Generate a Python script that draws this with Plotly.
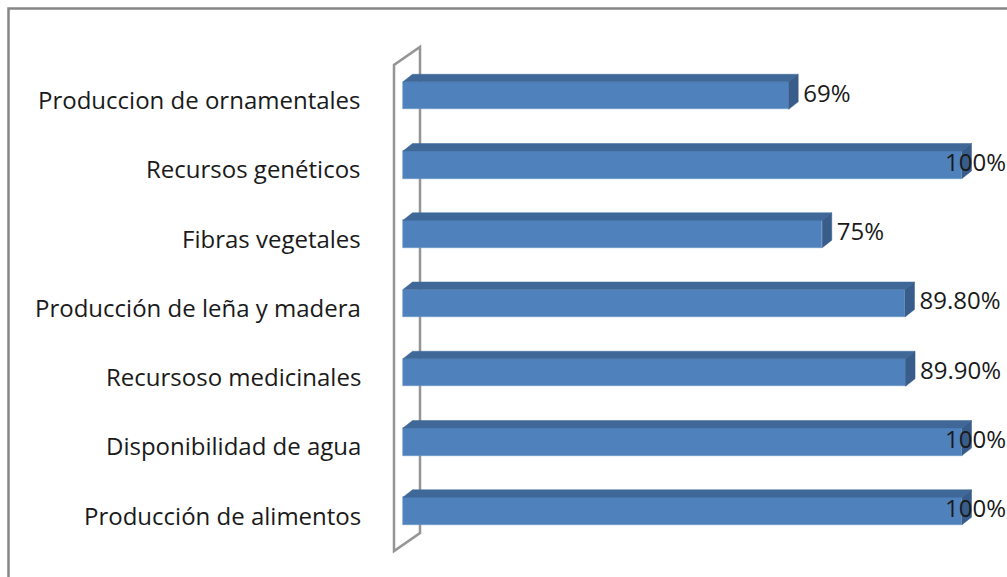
import plotly.graph_objects as go

# ---- data (bottom to top) ----
categories = [
    "Producción de alimentos",
    "Disponibilidad de agua",
    "Recursoso medicinales",
    "Producción de leña y madera",
    "Fibras vegetales",
    "Recursos genéticos",
    "Produccion de ornamentales",
]
values = [100, 100, 89.9, 89.8, 75, 100, 69]
value_labels = ["100%", "100%", "89.90%", "89.80%", "75%", "100%", "69%"]

# ---- layout geometry (pixels) ----
W_PX, H_PX = 1007, 577
L, R, T, B = 380, 0, 40, 17
PW, PH = W_PX - L - R, H_PX - T - B
X0_PX, X100_PX = 403, 962          # pixel of value 0 and 100
PX_PER_UNIT = (X100_PX - X0_PX) / 100.0
Y0_PX, CAT_STEP = 511, 69.25       # centre of first category, spacing
XR = [(L - X0_PX) / PX_PER_UNIT, (W_PX - R - X0_PX) / PX_PER_UNIT]
YR = [(Y0_PX - (H_PX - B)) / CAT_STEP, (Y0_PX - T) / CAT_STEP]

BAR_W = 27.5 / CAT_STEP
DX = 9.5 / PX_PER_UNIT
DY = 7.5 / CAT_STEP

FRONT = "#4F81BD"
TOP = "#3F6898"
SIDE = "#385D8A"
FONT = "Open Sans, sans-serif"
FSIZE = 24

def px2paper(px, py):
    return (px - L) / PW, 1 - (py - T) / PH

ypos = list(range(len(categories)))

fig = go.Figure()

# front faces
fig.add_trace(go.Bar(
    x=values, y=ypos, orientation="h", width=BAR_W,
    marker=dict(color=FRONT, line=dict(color="#6F97CA", width=0.6)),
    hoverinfo="skip", showlegend=False,
))

# top faces and side faces
tx, ty, sx, sy = [], [], [], []
for y, v in zip(ypos, values):
    yt, yb = y + BAR_W / 2, y - BAR_W / 2
    tx += [0, v, v + DX, DX, 0, None]
    ty += [yt, yt, yt + DY, yt + DY, yt, None]
    sx += [v, v + DX, v + DX, v, v, None]
    sy += [yt, yt + DY, yb + DY, yb, yt, None]
fig.add_trace(go.Scatter(x=tx, y=ty, mode="lines", fill="toself",
                         fillcolor=TOP, line=dict(color=TOP, width=0.5),
                         hoverinfo="skip", showlegend=False))
fig.add_trace(go.Scatter(x=sx, y=sy, mode="lines", fill="toself",
                         fillcolor=SIDE, line=dict(color=SIDE, width=0.5),
                         hoverinfo="skip", showlegend=False))

# value labels
LABEL_GAP = 5.0 / PX_PER_UNIT
LABEL_MAX = (945 - X0_PX) / PX_PER_UNIT
lab_x = [min(v + DX + LABEL_GAP, LABEL_MAX) for v in values]
fig.add_trace(go.Scatter(
    x=lab_x, y=ypos, mode="text", text=value_labels,
    textposition="middle right", cliponaxis=False,
    textfont=dict(family=FONT, size=FSIZE, color="#1a1a1a"),
    hoverinfo="skip", showlegend=False,
))

annotations = []
for y, c in zip(ypos, categories):
    ax, _ = px2paper(363, 0)
    annotations.append(dict(
        x=ax, xref="paper", y=y, yref="y", yshift=-4, text=c,
        showarrow=False, xanchor="right", yanchor="middle",
        font=dict(family=FONT, size=FSIZE, color="#1a1a1a"),
    ))

shapes = []
# chart border
bx0, by0 = px2paper(8.5, 8.5)
bx1, by1 = px2paper(1015, 585)
shapes.append(dict(type="rect", xref="paper", yref="paper",
                   x0=bx0, y0=by1, x1=bx1, y1=by0,
                   line=dict(color="#868686", width=2.5), layer="above"))
# 3D wall outline
pts = [(394, 551), (394, 65), (420, 47), (420, 533)]
pp = [px2paper(x, y) for x, y in pts]
path = "M " + " L ".join(f"{x},{y}" for x, y in pp) + " Z"
shapes.append(dict(type="path", xref="paper", yref="paper", path=path,
                   line=dict(color="#959595", width=2.5), layer="below"))

fig.update_layout(
    width=W_PX, height=H_PX,
    margin=dict(l=L, r=R, t=T, b=B),
    paper_bgcolor="white", plot_bgcolor="rgba(0,0,0,0)",
    xaxis=dict(range=XR, visible=False, fixedrange=True),
    yaxis=dict(range=YR, visible=False, fixedrange=True),
    annotations=annotations, shapes=shapes,
    showlegend=False, bargap=0,
)

fig.write_html("out.html", config={"displayModeBar": False},
               post_script="document.body.style.margin='0';")
